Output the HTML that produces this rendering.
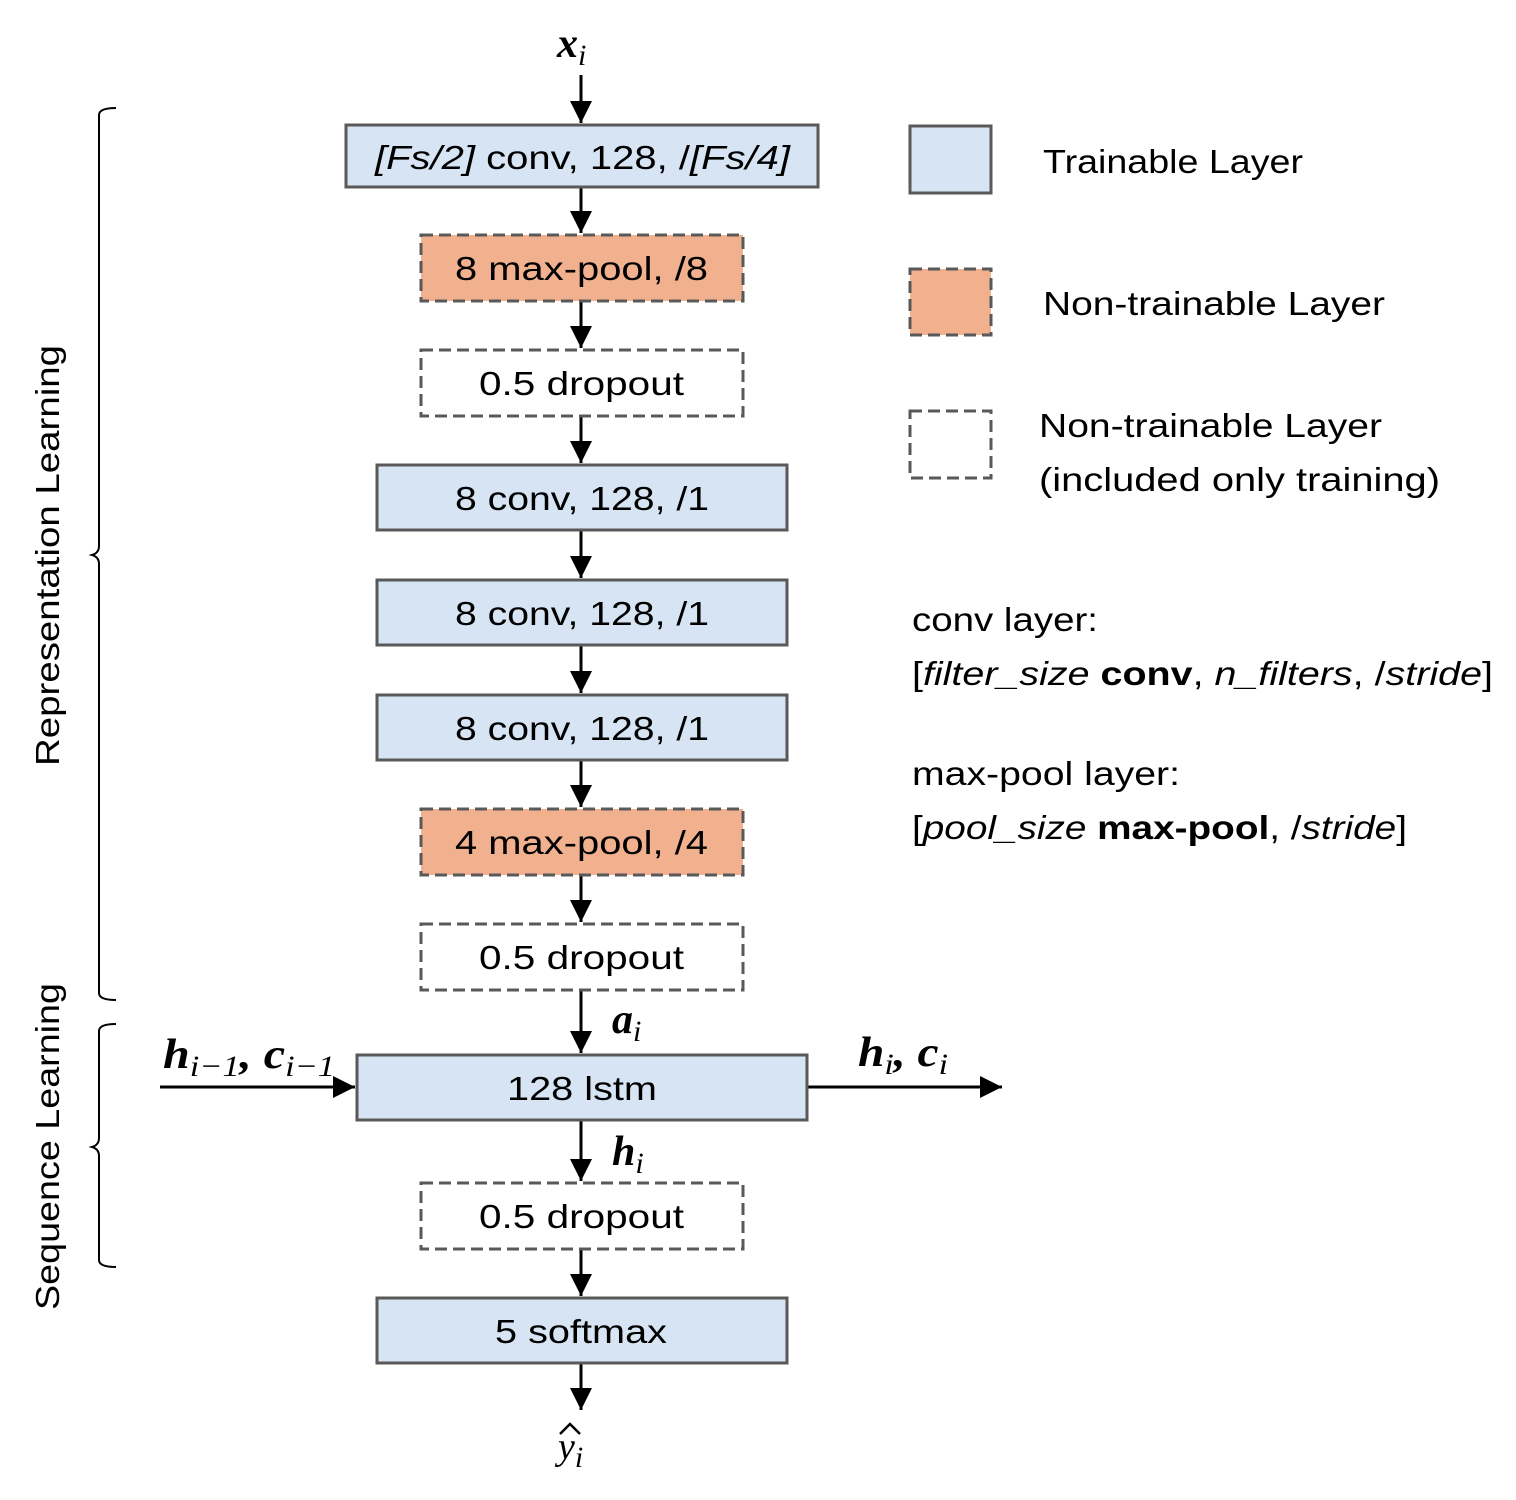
<!DOCTYPE html>
<html><head><meta charset="utf-8"><style>
html,body{margin:0;padding:0;background:#fff;}
svg{display:block;}
text{font-family:"Liberation Sans",sans-serif;fill:#000;}
.t{font-size:33px;}
.m{font-family:"Liberation Serif",serif;font-weight:bold;font-style:italic;font-size:42px;}
.s{font-family:"Liberation Serif",serif;font-style:italic;font-weight:normal;font-size:30px;}
</style></head><body>
<svg width="1516" height="1500" viewBox="0 0 1516 1500" xmlns="http://www.w3.org/2000/svg">
<defs><marker id="b" viewBox="0 0 10 10" refX="10" refY="5" markerWidth="22" markerHeight="22" markerUnits="userSpaceOnUse" orient="auto"><path d="M0,0 L10,5 L0,10z" fill="#000"/></marker></defs>
<g stroke="#000" stroke-width="3" marker-end="url(#b)">
<line x1="581" y1="75" x2="581" y2="123"/>
<line x1="581" y1="188" x2="581" y2="233"/>
<line x1="581" y1="302" x2="581" y2="348"/>
<line x1="581" y1="417" x2="581" y2="463"/>
<line x1="581" y1="531" x2="581" y2="578"/>
<line x1="581" y1="646" x2="581" y2="693"/>
<line x1="581" y1="761" x2="581" y2="807"/>
<line x1="581" y1="876" x2="581" y2="922"/>
<line x1="581" y1="991" x2="581" y2="1053"/>
<line x1="581" y1="1121" x2="581" y2="1181"/>
<line x1="581" y1="1250" x2="581" y2="1296"/>
<line x1="581" y1="1364" x2="581" y2="1410"/>
<line x1="160" y1="1087" x2="355" y2="1087"/>
<line x1="808" y1="1087" x2="1002" y2="1087"/>
</g>
<g stroke="#595959" stroke-width="3">
<rect x="346" y="125" width="472" height="62" fill="#d6e4f3"/>
<rect x="421" y="235" width="322" height="66" fill="#f1b18e" stroke-dasharray="12,6"/>
<rect x="421" y="350" width="322" height="66" fill="#fff" stroke-dasharray="12,6"/>
<rect x="377" y="465" width="410" height="65" fill="#d6e4f3"/>
<rect x="377" y="580" width="410" height="65" fill="#d6e4f3"/>
<rect x="377" y="695" width="410" height="65" fill="#d6e4f3"/>
<rect x="421" y="809" width="322" height="66" fill="#f1b18e" stroke-dasharray="12,6"/>
<rect x="421" y="924" width="322" height="66" fill="#fff" stroke-dasharray="12,6"/>
<rect x="357" y="1055" width="450" height="65" fill="#d6e4f3"/>
<rect x="421" y="1183" width="322" height="66" fill="#fff" stroke-dasharray="12,6"/>
<rect x="377" y="1298" width="410" height="65" fill="#d6e4f3"/>
<rect x="910" y="126" width="81" height="67" fill="#d6e4f3"/>
<rect x="910" y="269" width="81" height="66" fill="#f1b18e" stroke-dasharray="12,6"/>
<rect x="910" y="411" width="81" height="67" fill="#fff" stroke-dasharray="12,6"/>
</g>
<g class="t">
<text x="375" y="169" textLength="415" lengthAdjust="spacingAndGlyphs"><tspan font-style="italic">[Fs/2]</tspan> conv, 128, /<tspan font-style="italic">[Fs/4]</tspan></text>
<text x="455" y="280" textLength="253" lengthAdjust="spacingAndGlyphs">8 max-pool, /8</text>
<text x="479" y="395" textLength="205" lengthAdjust="spacingAndGlyphs">0.5 dropout</text>
<text x="455" y="510" textLength="254" lengthAdjust="spacingAndGlyphs">8 conv, 128, /1</text>
<text x="455" y="625" textLength="254" lengthAdjust="spacingAndGlyphs">8 conv, 128, /1</text>
<text x="455" y="740" textLength="254" lengthAdjust="spacingAndGlyphs">8 conv, 128, /1</text>
<text x="455" y="854" textLength="253" lengthAdjust="spacingAndGlyphs">4 max-pool, /4</text>
<text x="479" y="969" textLength="205" lengthAdjust="spacingAndGlyphs">0.5 dropout</text>
<text x="507" y="1100" textLength="150" lengthAdjust="spacingAndGlyphs">128 lstm</text>
<text x="479" y="1228" textLength="205" lengthAdjust="spacingAndGlyphs">0.5 dropout</text>
<text x="495" y="1343" textLength="172" lengthAdjust="spacingAndGlyphs">5 softmax</text>
<text x="1043" y="173" textLength="260" lengthAdjust="spacingAndGlyphs">Trainable Layer</text>
<text x="1043" y="315" textLength="342" lengthAdjust="spacingAndGlyphs">Non-trainable Layer</text>
<text x="1039" y="437" textLength="343" lengthAdjust="spacingAndGlyphs">Non-trainable Layer</text>
<text x="1039" y="491" textLength="401" lengthAdjust="spacingAndGlyphs">(included only training)</text>
<text x="912" y="631" textLength="186" lengthAdjust="spacingAndGlyphs">conv layer:</text>
<text x="912" y="685" textLength="581" lengthAdjust="spacingAndGlyphs">[<tspan font-style="italic">filter_size</tspan> <tspan font-weight="bold">conv</tspan>, <tspan font-style="italic">n_filters</tspan>, /<tspan font-style="italic">stride</tspan>]</text>
<text x="912" y="785" textLength="268" lengthAdjust="spacingAndGlyphs">max-pool layer:</text>
<text x="912" y="839" textLength="495" lengthAdjust="spacingAndGlyphs">[<tspan font-style="italic">pool_size</tspan> <tspan font-weight="bold">max-pool</tspan>, /<tspan font-style="italic">stride</tspan>]</text>
<text transform="translate(59,766) rotate(-90)" textLength="421" lengthAdjust="spacingAndGlyphs">Representation Learning</text>
<text transform="translate(59,1310) rotate(-90)" textLength="327" lengthAdjust="spacingAndGlyphs">Sequence Learning</text>
</g>
<text class="m" x="557" y="57">x<tspan class="s" dy="8">i</tspan></text>
<text class="m" x="612" y="1033">a<tspan class="s" dy="8">i</tspan></text>
<text class="m" x="612" y="1165">h<tspan class="s" dy="8">i</tspan></text>
<text class="m" x="163" y="1068" textLength="172" lengthAdjust="spacingAndGlyphs">h<tspan class="s" dy="8">i−1</tspan><tspan dy="-8">, </tspan>c<tspan class="s" dy="8">i−1</tspan></text>
<text class="m" x="858" y="1066" textLength="90" lengthAdjust="spacingAndGlyphs">h<tspan class="s" dy="8">i</tspan><tspan dy="-8">, </tspan>c<tspan class="s" dy="8">i</tspan></text>
<text x="558" y="1459" style="font-family:'Liberation Serif',serif;font-style:italic;font-size:38px">y<tspan class="s" dy="8">i</tspan></text>
<path d="M560,1434 L570,1424 L580,1434" fill="none" stroke="#000" stroke-width="2.5"/>
<g fill="none" stroke="#000" stroke-width="2">
<path d="M116,108 Q99,108 99,115 L99,546 Q99,553 92,555 Q99,557 99,564 L99,993 Q99,1000 116,1000"/>
<path d="M116,1024 Q99,1024 99,1031 L99,1138 Q99,1145 92,1147 Q99,1149 99,1156 L99,1260 Q99,1267 116,1267"/>
</g>
</svg>
</body></html>
